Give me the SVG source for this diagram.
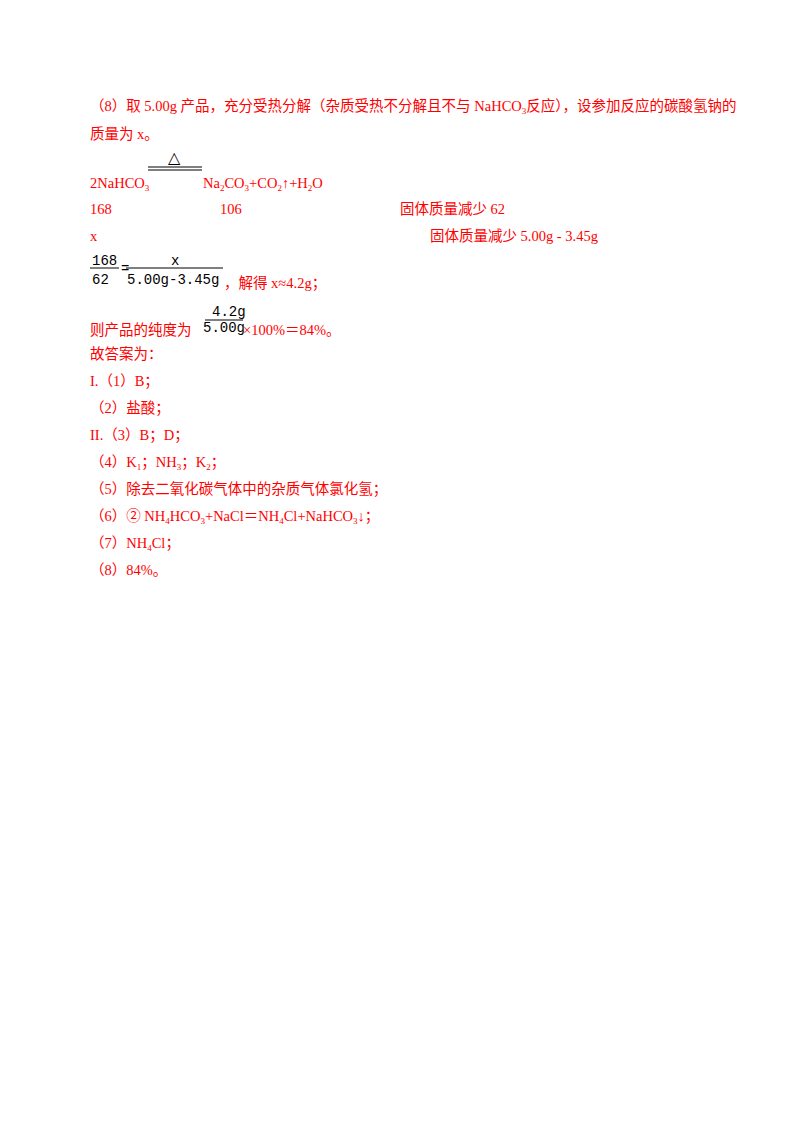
<svg xmlns="http://www.w3.org/2000/svg" width="800" height="1132" viewBox="0 0 800 1132">
<style>
.r{font-family:"Liberation Serif","Noto Sans CJK SC",serif;font-size:14.5px;fill:#ff0000}
.k{font-family:"Liberation Mono","Noto Sans CJK SC",monospace;font-size:14px;fill:#000}
.s{font-size:9px}
</style>
<rect width="800" height="1132" fill="#fff"/>
<text class="r" x="90" y="111">（8）取 5.00g 产品，充分受热分解（杂质受热不分解且不与 NaHCO<tspan class="s" dy="3">3</tspan><tspan dy="-3">反应），设参加反应的碳酸氢钠的</tspan></text>
<text class="r" x="90" y="139">质量为 x。</text>
<text x="168" y="163" font-family="DejaVu Sans" font-size="16" fill="#000">△</text>
<line x1="148" y1="167" x2="202" y2="167" stroke="#000" stroke-width="1.2"/>
<line x1="148" y1="170" x2="202" y2="170" stroke="#000" stroke-width="1.2"/>
<text class="r" x="90" y="188">2NaHCO<tspan class="s" dy="3">3</tspan></text>
<text class="r" x="203" y="188">Na<tspan class="s" dy="3">2</tspan><tspan dy="-3">CO</tspan><tspan class="s" dy="3">3</tspan><tspan dy="-3">+CO</tspan><tspan class="s" dy="3">2</tspan><tspan dy="-3">↑+H</tspan><tspan class="s" dy="3">2</tspan><tspan dy="-3">O</tspan></text>
<text class="r" x="90" y="214">168</text>
<text class="r" x="220" y="214">106</text>
<text class="r" x="400" y="214">固体质量减少 62</text>
<text class="r" x="90" y="241">x</text>
<text class="r" x="430" y="241">固体质量减少 5.00g - 3.45g</text>
<text class="k" x="92" y="265">168</text>
<line x1="90" y1="268" x2="119" y2="268" stroke="#000"/>
<text class="k" x="92" y="284">62</text>
<text class="k" x="121" y="273">=</text>
<text class="k" x="171" y="265">x</text>
<line x1="126" y1="268" x2="223" y2="268" stroke="#000"/>
<text class="k" x="127" y="284">5.00g-3.45g</text>
<text class="r" x="224" y="288">，解得 x≈4.2g；</text>
<text class="k" x="212" y="316">4.2g</text>
<line x1="205" y1="320" x2="243" y2="320" stroke="#000"/>
<text class="r" x="90" y="335">则产品的纯度为</text>
<text class="k" x="203" y="332">5.00g</text>
<text class="r" x="243" y="335">×100%＝84%。</text>
<text class="r" x="90" y="359">故答案为：</text>
<text class="r" x="90" y="386">I.（1）B；</text>
<text class="r" x="90" y="413">（2）盐酸；</text>
<text class="r" x="90" y="440">II.（3）B；D；</text>
<text class="r" x="90" y="467">（4）K<tspan class="s" dy="3">1</tspan><tspan dy="-3">；NH</tspan><tspan class="s" dy="3">3</tspan><tspan dy="-3">；K</tspan><tspan class="s" dy="3">2</tspan><tspan dy="-3">；</tspan></text>
<text class="r" x="90" y="494">（5）除去二氧化碳气体中的杂质气体氯化氢；</text>
<text class="r" x="90" y="521">（6）② NH<tspan class="s" dy="3">4</tspan><tspan dy="-3">HCO</tspan><tspan class="s" dy="3">3</tspan><tspan dy="-3">+NaCl＝NH</tspan><tspan class="s" dy="3">4</tspan><tspan dy="-3">Cl+NaHCO</tspan><tspan class="s" dy="3">3</tspan><tspan dy="-3">↓；</tspan></text>
<text class="r" x="90" y="548">（7）NH<tspan class="s" dy="3">4</tspan><tspan dy="-3">Cl；</tspan></text>
<text class="r" x="90" y="575">（8）84%。</text>
</svg>
